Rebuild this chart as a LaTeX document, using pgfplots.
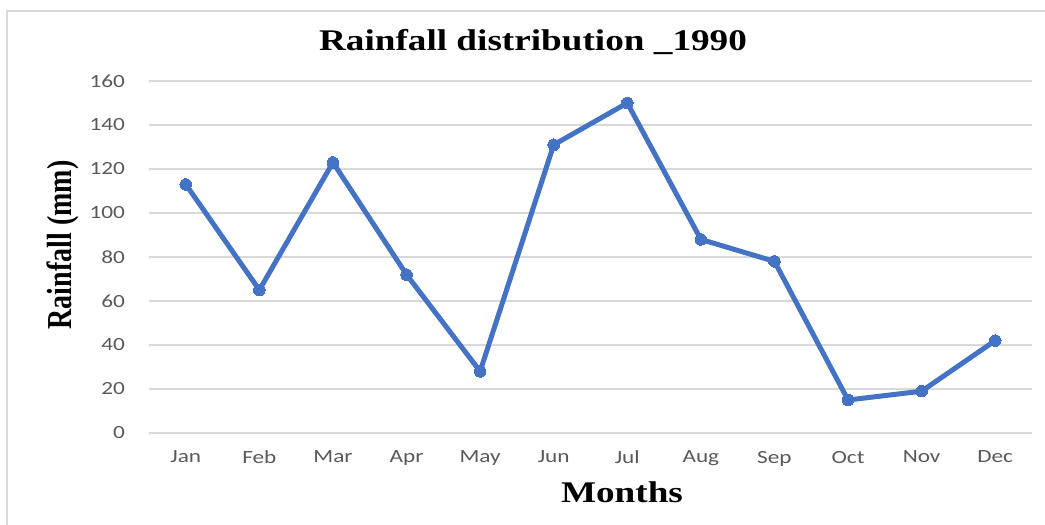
\documentclass[border=0pt]{standalone}
\usepackage{pgfplots}
\pgfplotsset{compat=1.18}
\usepackage{graphicx}
\usepackage{fontspec}
\setmainfont{Liberation Serif}
\newfontfamily\tickfont[FakeStretch=1.25]{Carlito}
\newfontfamily\titlefont[FakeStretch=1.24]{Liberation Serif}
\definecolor{serieblue}{HTML}{4472C4}
\definecolor{gridgray}{HTML}{D9D9D9}
\definecolor{ticktext}{HTML}{595959}
\begin{document}
\begin{tikzpicture}[x=0.5pt,y=0.5pt]
\useasboundingbox (0,0) rectangle (1045,525);
\draw[color=gridgray, line width=1pt] (7,0) -- (7,514) -- (1045,514);
\begin{axis}[
  at={(74.5pt,46pt)}, anchor=south west,
  scale only axis, width=441.5pt, height=176pt,
  xmin=-0.5, xmax=11.5, ymin=0, ymax=160,
  ytick={0,20,...,160},
  xtick={0,...,11},
  xticklabels={Jan,Feb,Mar,Apr,May,Jun,Jul,Aug,Sep,Oct,Nov,Dec},
  axis line style={draw=none},
  tick style={draw=none},
  ymajorgrids,
  grid style={color=gridgray, line width=0.6pt},
  ticklabel style={font=\tickfont\fontsize{9.3}{10}\selectfont, text=ticktext},
  /pgf/number format/assume math mode=true,
  yticklabel shift=8.5pt,
  xticklabel shift=5.5pt,
  clip=false,
]
\addplot[color=serieblue, line width=2.5pt, mark=*, mark size=2.9pt, mark options={fill=serieblue, draw=serieblue, line width=0pt}]
  coordinates {(0,113) (1,65) (2,123) (3,72) (4,28) (5,131) (6,150) (7,88) (8,78) (9,15) (10,19) (11,42)};
\end{axis}
\node[font=\titlefont\bfseries\fontsize{15}{18}\selectfont] at (533,483) {Rainfall distribution \_1990};
\node[rotate=90] at (63,280) {\scalebox{1}[1.25]{\bfseries\fontsize{14}{16}\selectfont Rainfall (mm)}};
\node[font=\titlefont\bfseries\fontsize{15}{18}\selectfont] at (622,33) {Months};
\end{tikzpicture}
\end{document}
